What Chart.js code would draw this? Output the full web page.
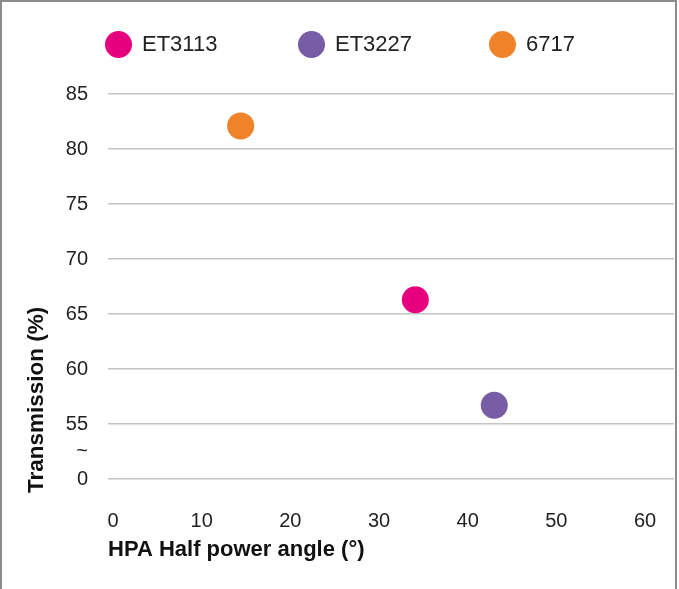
<!DOCTYPE html>
<html>
<head>
<meta charset="utf-8">
<script src="https://cdn.jsdelivr.net/npm/chart.js@4.4.0/dist/chart.umd.min.js"></script>
<style>
    html, body { margin: 0; padding: 0; background: #fff; }
    #wrap { position: relative; width: 679px; height: 589px; overflow: hidden; }
    #frame {
        position: absolute; left: 0; top: 0; width: 677px; height: 620px;
        border: 2px solid #8c8c8c; box-sizing: border-box;
        pointer-events: none;
    }
    #legend { position: absolute; left: 105px; top: 30px; display: flex; font-family: "Liberation Sans", Arial, sans-serif; }
    .item { display: flex; align-items: center; height: 28px; font-size: 22px; color: #222; }
    .dot { width: 27px; height: 27px; border-radius: 50%; margin-right: 10px; }
</style>
</head>
<body>
<div id="wrap">
    <canvas id="chart" width="679" height="589"></canvas>
    <div id="legend"></div>
    <div id="frame"></div>
</div>
<script>
// series
const seriesNames = ["ET3113", "ET3227", "6717"];
const hpaAngle = [34.1, 43.0, 14.4];
const transmission = [66.3, 56.7, 82.1];
const seriesColors = ["#e6007e", "#775ca6", "#f0822a"];

// ticks (y axis is broken: the lowest line stands for 0)
const xTicks = [0, 10, 20, 30, 40, 50, 60];
const yTicks = [50, 52.5, 55, 60, 65, 70, 75, 80, 85];
const yTickLabels = ["0", "~", "55", "60", "65", "70", "75", "80", "85"];
const itemWidths = [193, 191, 120];

const fontName = "'Liberation Sans', Arial, sans-serif";

// y title drawn by hand so it can sit low like the original
const yTitlePlugin = {
    id: "yTitle",
    afterDraw: function(chart) {
        const ctx = chart.ctx;
        ctx.save();
        ctx.translate(43, 493);
        ctx.rotate(-Math.PI / 2);
        ctx.font = "bold 22.5px " + fontName;
        ctx.fillStyle = "#111";
        ctx.textAlign = "left";
        ctx.textBaseline = "alphabetic";
        ctx.fillText("Transmission (%)", 0, 0);
        ctx.restore();
    }
};

const ctx = document.getElementById("chart");
const myChart = new Chart(ctx, {
    type: "scatter",
    data: {
        datasets: seriesNames.map((name, i) => ({
            label: name,
            data: [{ x: hpaAngle[i], y: transmission[i] }],
            backgroundColor: seriesColors[i],
            borderWidth: 0,
            pointRadius: 13.5,
            pointHoverRadius: 13.5
        }))
    },
    options: {
        responsive: false,
        animation: false,
        layout: { autoPadding: false, padding: { top: 94, right: 5, left: 0, bottom: 0 } },
        plugins: {
            legend: { display: false },
            tooltip: { enabled: false }
        },
        scales: {
            x: {
                type: "linear",
                min: -0.564,
                max: 63.27,
                afterBuildTicks: function(scale) {
                    scale.ticks = xTicks.map(v => ({ value: v }));
                },
                afterFit: function(scale) {
                    scale.height = 110;
                },
                // invisible tick marks push the labels down
                grid: { drawOnChartArea: false, drawTicks: true, tickLength: 30, color: "rgba(0,0,0,0)" },
                border: { display: false },
                ticks: {
                    padding: 0,
                    maxRotation: 0,
                    color: "#222",
                    font: { family: fontName, size: 20 }
                },
                title: {
                    display: true,
                    text: "HPA Half power angle (°)",
                    align: "start",
                    color: "#111",
                    font: { family: fontName, size: 22, weight: "bold" },
                    padding: { top: 0, bottom: 26 }
                }
            },
            y: {
                type: "linear",
                min: 50,
                max: 85,
                afterBuildTicks: function(scale) {
                    scale.ticks = yTicks.map(v => ({ value: v }));
                },
                afterFit: function(scale) {
                    scale.width = 108;
                },
                grid: {
                    drawTicks: false,
                    lineWidth: 1.5,
                    color: c => (c.tick && c.tick.value === 52.5) ? "rgba(0,0,0,0)" : "#c4c4c4"
                },
                border: { display: false },
                ticks: {
                    padding: 20,
                    color: "#222",
                    font: { family: fontName, size: 20 },
                    callback: function(value) {
                        const i = yTicks.indexOf(value);
                        return i >= 0 ? yTickLabels[i] : "";
                    }
                }
            }
        }
    },
    plugins: [yTitlePlugin]
});

// html legend built from the chart datasets
const legend = document.getElementById("legend");
myChart.data.datasets.forEach((ds, i) => {
    const item = document.createElement("div");
    item.className = "item";
    item.style.width = itemWidths[i] + "px";
    const dot = document.createElement("span");
    dot.className = "dot";
    dot.style.background = ds.backgroundColor;
    const label = document.createElement("span");
    label.textContent = ds.label;
    item.appendChild(dot);
    item.appendChild(label);
    legend.appendChild(item);
});
</script>
</body>
</html>
